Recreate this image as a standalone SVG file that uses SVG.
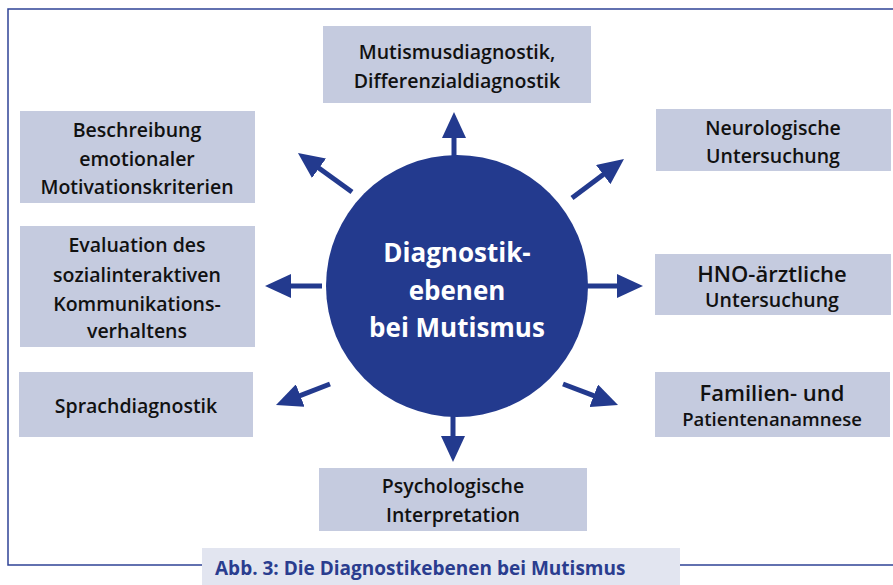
<svg xmlns="http://www.w3.org/2000/svg" width="893" height="585" viewBox="0 0 893 585">
<defs>
<style>
.box{fill:#c5cbdf}
.t{font-family:"Open Sans","Noto Sans","Liberation Sans",sans-serif;font-weight:600;font-size:19.5px;fill:#111;text-anchor:middle}
.c{font-family:"Open Sans","Noto Sans","Liberation Sans",sans-serif;font-weight:700;font-size:26px;fill:#fff;text-anchor:middle}
.cap{font-family:"Open Sans","Noto Sans","Liberation Sans",sans-serif;font-weight:700;font-size:19px;fill:#2a3d8f}
.arr{stroke:#233a8e;stroke-width:5;fill:none;marker-end:url(#ah)}
.frame{stroke:#2f4396;stroke-width:1.5;fill:none}
</style>
<marker id="ah" markerUnits="userSpaceOnUse" markerWidth="26" markerHeight="24" refX="14" refY="12" orient="auto" viewBox="0 0 26 24">
<path d="M0,0 L26,12 L0,24 z" fill="#233a8e"/>
</marker>
</defs>
<rect width="893" height="585" fill="#fff"/>
<g id="frame">
<path class="frame" d="M893,9 L8,9 L8,565 L893,565"/>
</g>
<g id="caption">
<rect x="202" y="548" width="478" height="37" fill="#e2e5f0"/>
<text class="cap" x="215" y="575">Abb. 3: Die Diagnostikebenen bei Mutismus</text>
</g>
<g id="connectors">
<line class="arr" x1="454" y1="156" x2="454" y2="124"/>
<line class="arr" x1="352" y1="192" x2="307.7" y2="160"/>
<line class="arr" x1="572" y1="198" x2="614.4" y2="166.2"/>
<line class="arr" x1="322" y1="286" x2="277" y2="286"/>
<line class="arr" x1="586" y1="286" x2="631" y2="286"/>
<line class="arr" x1="330" y1="384" x2="287.2" y2="400.6"/>
<line class="arr" x1="563" y1="384" x2="606.8" y2="400.7"/>
<line class="arr" x1="453" y1="412" x2="453" y2="450"/>
</g>
<g id="center">
<circle cx="457" cy="286" r="131" fill="#233a8e"/>
<text class="c" x="457" y="262">Diagnostik-</text>
<text class="c" x="457" y="300">ebenen</text>
<text class="c" x="457" y="337">bei Mutismus</text>
</g>
<g id="n-mutismus">
<rect class="box" x="323" y="26" width="268" height="77"/>
<text class="t" x="457" y="59">Mutismusdiagnostik,</text>
<text class="t" x="457" y="88">Differenzialdiagnostik</text>
</g>
<g id="n-beschreibung">
<rect class="box" x="20" y="111" width="235" height="92"/>
<text class="t" x="137" y="137">Beschreibung</text>
<text class="t" x="137" y="166">emotionaler</text>
<text class="t" x="137" y="194">Motivationskriterien</text>
</g>
<g id="n-evaluation">
<rect class="box" x="20" y="226" width="235" height="121"/>
<text class="t" x="137" y="252">Evaluation des</text>
<text class="t" x="137" y="282">sozialinteraktiven</text>
<text class="t" x="137" y="311">Kommunikations-</text>
<text class="t" x="137" y="338">verhaltens</text>
</g>
<g id="n-sprach">
<rect class="box" x="19" y="372" width="234" height="65"/>
<text class="t" x="136" y="413">Sprachdiagnostik</text>
</g>
<g id="n-neuro">
<rect class="box" x="656" y="109" width="235" height="62"/>
<text class="t" x="773" y="135">Neurologische</text>
<text class="t" x="773" y="163">Untersuchung</text>
</g>
<g id="n-hno">
<rect class="box" x="655" y="254" width="236" height="61"/>
<text class="t" x="772" y="282" style="font-size:22px">HNO-ärztliche</text>
<text class="t" x="772" y="307">Untersuchung</text>
</g>
<g id="n-familien">
<rect class="box" x="655" y="372" width="235" height="65"/>
<text class="t" x="772" y="401" style="font-size:22px">Familien- und</text>
<text class="t" x="772" y="426" style="font-size:18.5px">Patientenanamnese</text>
</g>
<g id="n-psycho">
<rect class="box" x="319" y="468" width="268" height="63"/>
<text class="t" x="453" y="493">Psychologische</text>
<text class="t" x="453" y="522">Interpretation</text>
</g>
</svg>
